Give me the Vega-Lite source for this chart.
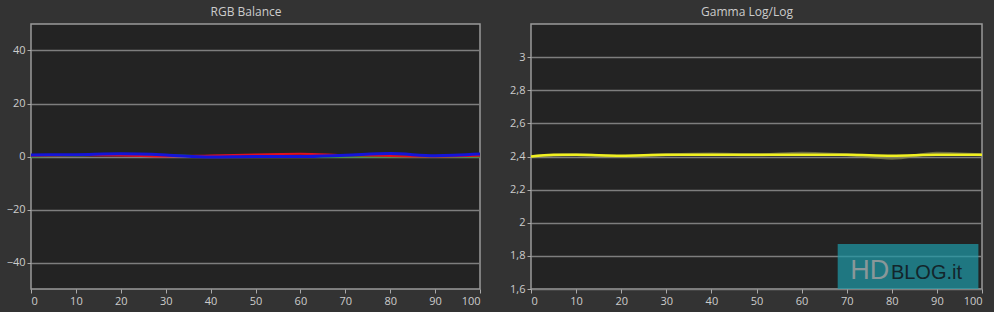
{
  "$schema": "https://vega.github.io/schema/vega-lite/v6.json",
  "background": "#333333",
  "padding": {"left": 5, "top": 5, "right": 5, "bottom": 5},
  "bounds": "flush",
  "spacing": 51,
  "datasets": {
    "rgb": [
      {"x": 0, "v": 0.0, "c": "G"}, {"x": 10, "v": 0.3, "c": "G"}, {"x": 20, "v": 0.8, "c": "G"}, {"x": 30, "v": 0.5, "c": "G"}, {"x": 40, "v": 0.0, "c": "G"}, {"x": 50, "v": -0.2, "c": "G"}, {"x": 60, "v": -0.2, "c": "G"}, {"x": 70, "v": 0.0, "c": "G"}, {"x": 80, "v": 0.0, "c": "G"}, {"x": 90, "v": 0.0, "c": "G"}, {"x": 100, "v": 0.0, "c": "G"},
      {"x": 0, "v": 0.3, "c": "R"}, {"x": 10, "v": 0.5, "c": "R"}, {"x": 20, "v": 0.4, "c": "R"}, {"x": 30, "v": 0.0, "c": "R"}, {"x": 40, "v": 0.4, "c": "R"}, {"x": 50, "v": 0.8, "c": "R"}, {"x": 60, "v": 1.0, "c": "R"}, {"x": 70, "v": 0.5, "c": "R"}, {"x": 80, "v": 0.2, "c": "R"}, {"x": 90, "v": 0.0, "c": "R"}, {"x": 100, "v": 0.3, "c": "R"},
      {"x": 0, "v": 0.6, "c": "B"}, {"x": 10, "v": 0.7, "c": "B"}, {"x": 20, "v": 1.0, "c": "B"}, {"x": 30, "v": 0.6, "c": "B"}, {"x": 40, "v": -0.2, "c": "B"}, {"x": 50, "v": 0.0, "c": "B"}, {"x": 60, "v": 0.0, "c": "B"}, {"x": 70, "v": 0.5, "c": "B"}, {"x": 80, "v": 1.1, "c": "B"}, {"x": 90, "v": 0.3, "c": "B"}, {"x": 100, "v": 0.9, "c": "B"}
    ],
    "gamma": [
      {"x": 0, "g": 2.40, "s": "ref"}, {"x": 10, "g": 2.41, "s": "ref"}, {"x": 20, "g": 2.40, "s": "ref"}, {"x": 30, "g": 2.41, "s": "ref"}, {"x": 40, "g": 2.415, "s": "ref"}, {"x": 50, "g": 2.41, "s": "ref"}, {"x": 60, "g": 2.42, "s": "ref"}, {"x": 70, "g": 2.41, "s": "ref"}, {"x": 80, "g": 2.39, "s": "ref"}, {"x": 90, "g": 2.42, "s": "ref"}, {"x": 100, "g": 2.41, "s": "ref"},
      {"x": 0, "g": 2.40, "s": "gamma"}, {"x": 5, "g": 2.41, "s": "gamma"}, {"x": 10, "g": 2.41, "s": "gamma"}, {"x": 20, "g": 2.405, "s": "gamma"}, {"x": 30, "g": 2.41, "s": "gamma"}, {"x": 40, "g": 2.41, "s": "gamma"}, {"x": 50, "g": 2.41, "s": "gamma"}, {"x": 60, "g": 2.41, "s": "gamma"}, {"x": 70, "g": 2.41, "s": "gamma"}, {"x": 80, "g": 2.405, "s": "gamma"}, {"x": 90, "g": 2.41, "s": "gamma"}, {"x": 100, "g": 2.41, "s": "gamma"}
    ],
    "logo": [
      {"x": 68, "x2": 99.2, "y": 1.6, "y2": 1.871}
    ],
    "logotext": [
      {"x": 70.8, "y": 1.66, "t": "HD", "part": "a"},
      {"x": 79.8, "y": 1.66, "t": "BLOG.it", "part": "b"}
    ]
  },
  "config": {
    "view": {"fill": "#232323", "stroke": "#9a9a9a", "strokeWidth": 1.5},
    "axis": {
      "labelColor": "#cccccc", "labelFont": "Open Sans", "labelFontSize": 11,
      "tickColor": "#aaaaaa", "tickSize": 4, "domain": false,
      "gridColor": "#7e7e7e", "gridWidth": 1.5, "title": null, "labelOverlap": false, "tickCount": 20
    },
    "axisX": {"grid": false},
    "axisY": {"minExtent": 25, "maxExtent": 25, "labelPadding": 2},
    "title": {"color": "#cccccc", "font": "Open Sans", "fontSize": 12, "fontWeight": "normal", "offset": 5, "frame": "bounds"}
  },
  "hconcat": [
    {
      "title": "RGB Balance",
      "width": 449,
      "height": 265,
      "data": {"name": "rgb"},
      "encoding": {
        "x": {"field": "x", "type": "quantitative", "scale": {"domain": [0, 100], "nice": false}, "axis": {"values": [0, 10, 20, 30, 40, 50, 60, 70, 80, 90, 100]}},
        "y": {"field": "v", "type": "quantitative", "scale": {"domain": [-50, 50], "nice": false}, "axis": {"values": [-40, -20, 0, 20, 40]}}
      },
      "layer": [
        {"transform": [{"filter": "datum.c === 'G'"}], "mark": {"type": "line", "color": "#1fa020", "strokeWidth": 2, "interpolate": "monotone"}},
        {"transform": [{"filter": "datum.c === 'R'"}], "mark": {"type": "line", "color": "#e01020", "strokeWidth": 2, "interpolate": "monotone"}},
        {"transform": [{"filter": "datum.c === 'B'"}], "mark": {"type": "line", "color": "#1414d8", "strokeWidth": 3, "interpolate": "monotone"}}
      ]
    },
    {
      "title": "Gamma Log/Log",
      "width": 451,
      "height": 265,
      "layer": [
        {
          "data": {"name": "gamma"},
          "transform": [{"filter": "datum.s === 'ref'"}],
          "mark": {"type": "line", "color": "#8a8a50", "strokeWidth": 3, "opacity": 0.7, "interpolate": "monotone"},
          "encoding": {
            "x": {"field": "x", "type": "quantitative", "scale": {"domain": [0, 100], "nice": false}, "axis": {"values": [0, 10, 20, 30, 40, 50, 60, 70, 80, 90, 100]}},
            "y": {"field": "g", "type": "quantitative", "scale": {"domain": [1.6, 3.2], "nice": false, "zero": false}, "axis": {"values": [1.6, 1.8, 2, 2.2, 2.4, 2.6, 2.8, 3], "tickCount": 20, "labelExpr": "replace(format(datum.value, '~g'), '.', ',')"}}
          }
        },
        {
          "data": {"name": "gamma"},
          "transform": [{"filter": "datum.s === 'gamma'"}],
          "mark": {"type": "line", "color": "#f0f020", "strokeWidth": 2.5, "interpolate": "monotone"},
          "encoding": {
            "x": {"field": "x", "type": "quantitative"},
            "y": {"field": "g", "type": "quantitative"}
          }
        },
        {
          "data": {"name": "logo"},
          "mark": {"type": "rect", "fill": "#1f98a6", "opacity": 0.72},
          "encoding": {
            "x": {"field": "x", "type": "quantitative"},
            "x2": {"field": "x2"},
            "y": {"field": "y", "type": "quantitative"},
            "y2": {"field": "y2"}
          }
        },
        {
          "data": {"name": "logotext"},
          "transform": [{"filter": "datum.part === 'a'"}],
          "mark": {"type": "text", "align": "left", "baseline": "alphabetic", "font": "Liberation Sans", "fontSize": 27, "color": "#8a9799"},
          "encoding": {
            "x": {"field": "x", "type": "quantitative"},
            "y": {"field": "y", "type": "quantitative"},
            "text": {"field": "t"}
          }
        },
        {
          "data": {"name": "logotext"},
          "transform": [{"filter": "datum.part === 'b'"}],
          "mark": {"type": "text", "align": "left", "baseline": "alphabetic", "font": "Liberation Sans", "fontSize": 20, "color": "#13252b"},
          "encoding": {
            "x": {"field": "x", "type": "quantitative"},
            "y": {"field": "y", "type": "quantitative"},
            "text": {"field": "t"}
          }
        }
      ]
    }
  ]
}
